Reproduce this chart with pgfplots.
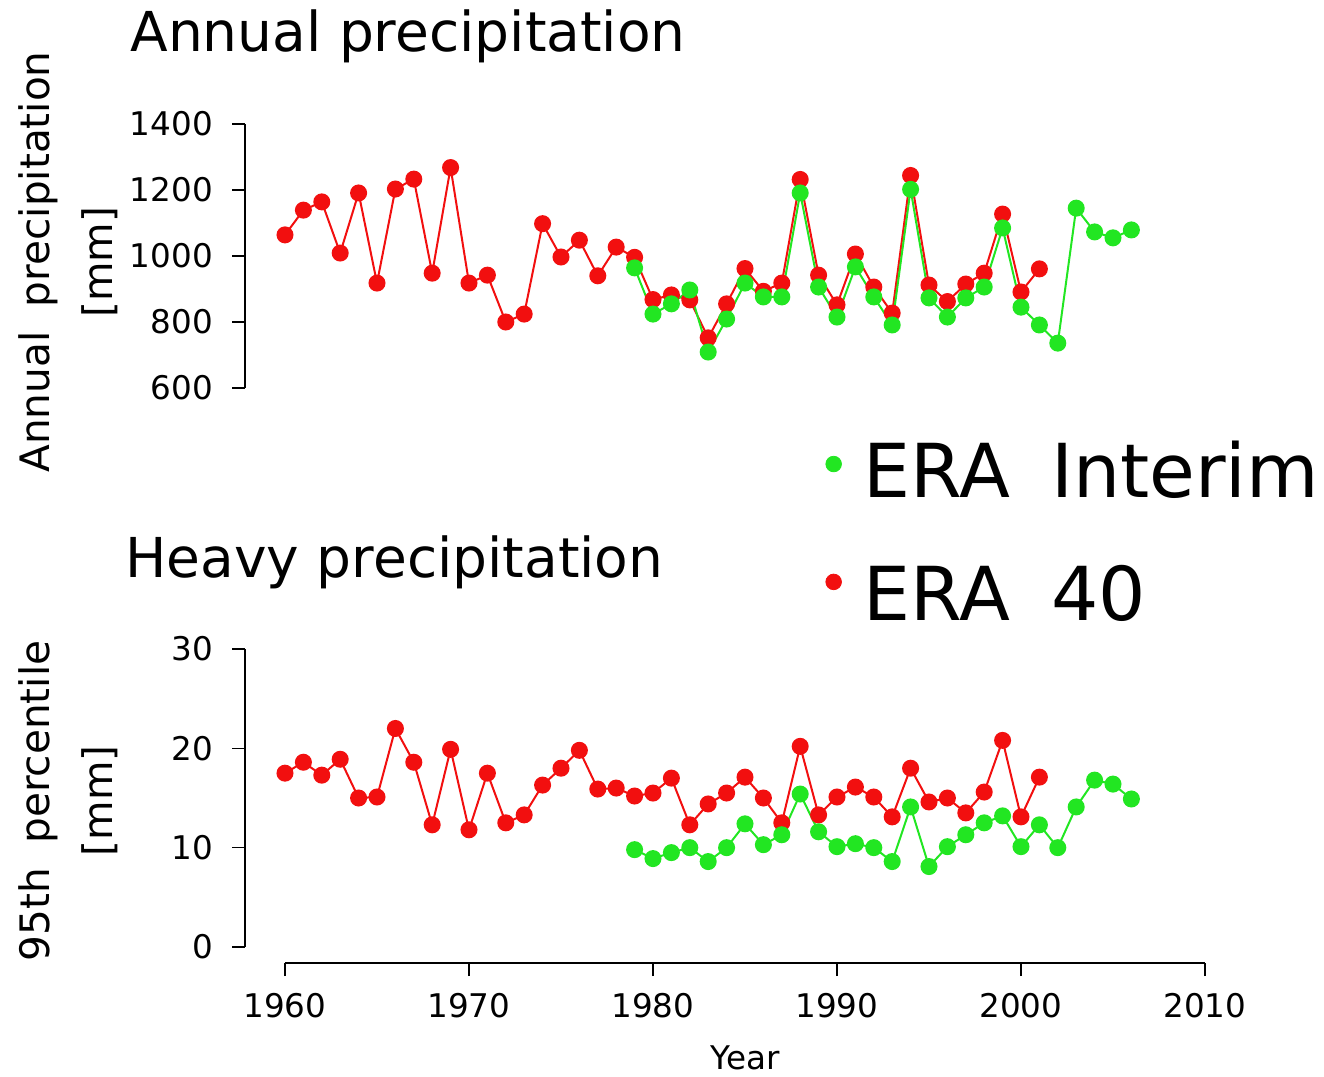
\documentclass[border=0pt]{standalone}
\usepackage{fontspec}
\setmainfont{DejaVu Sans}
\usepackage{pgfplots}
\pgfplotsset{compat=1.18}
\definecolor{eired}{HTML}{F20F0F}
\definecolor{eigreen}{HTML}{22E622}

\pgfplotsset{
  rstyle/.style={
    scale only axis, width=460pt, xmin=1960, xmax=2010, clip=false,
    axis y line*=left, axis line style={line width=0.6pt, -},
    tick align=outside, major tick length=6.5pt,
    tick style={line width=0.6pt, black},
    ticklabel style={font=\fontsize{16.3}{19}\selectfont},
    yticklabel style={xshift=-6pt},
    /pgf/number format/assume math mode=true,
    /pgf/number format/1000 sep={},
    axis y line shift=20pt,
    ylabel style={font=\fontsize{20.3}{31.5}\selectfont, align=center, anchor=center},
  },
  era/.style={line width=1pt, mark=*, mark size=3.75pt, mark options={solid}},
}

\begin{document}
\begin{tikzpicture}
\useasboundingbox (-142.5pt,-65pt) rectangle (519.5pt,473.5pt);

% top panel: annual precipitation
\begin{axis}[rstyle, at={(0pt,279.5pt)}, anchor=south west,
  height=132pt, ymin=600, ymax=1400, ytick={600,800,...,1400},
  axis x line=none, xtick=\empty,
  ylabel={Annual\hspace{0.6em}precipitation\\{[mm]}},
  ylabel style={at={(axis description cs:-0.236,0.477)}},
  legend style={draw=none, fill=none, at={(axis description cs:0.5805,-0.17)},
    anchor=north west, font=\fontsize{37.2}{44}\selectfont,
    cells={anchor=west}, row sep=28pt,
    /tikz/every odd column/.append style={column sep=9pt}},
]
\addplot[era, color=eired, forget plot] coordinates {
 (1960,1064) (1961,1139) (1962,1164) (1963,1009) (1964,1191) (1965,918)
 (1966,1203) (1967,1233) (1968,948) (1969,1268) (1970,918) (1971,942)
 (1972,800) (1973,824) (1974,1098) (1975,997) (1976,1048) (1977,940)
 (1978,1027) (1979,996) (1980,868) (1981,882) (1982,867) (1983,752)
 (1984,855) (1985,962) (1986,893) (1987,918) (1988,1232) (1989,942)
 (1990,852) (1991,1006) (1992,906) (1993,827) (1994,1244) (1995,912)
 (1996,862) (1997,915) (1998,948) (1999,1127) (2000,891) (2001,961)
};
\addplot[era, color=eigreen, forget plot] coordinates {
 (1979,964) (1980,824) (1981,855) (1982,897) (1983,709) (1984,809)
 (1985,918) (1986,876) (1987,876) (1988,1191) (1989,906) (1990,815)
 (1991,967) (1992,876) (1993,791) (1994,1202) (1995,873) (1996,815)
 (1997,873) (1998,906) (1999,1085) (2000,845) (2001,791) (2002,736)
 (2003,1145) (2004,1073) (2005,1055) (2006,1079)
};
\addlegendimage{legend image code/.code={\fill[eigreen] (0.3cm,0.35em) circle (3.9pt);}}
\addlegendentry{ERA\hspace{0.55em}Interim}
\addlegendimage{legend image code/.code={\fill[eired] (0.3cm,0.6em) circle (3.9pt);}}
\addlegendentry{ERA\hspace{0.55em}40}
\end{axis}

% bottom panel: heavy precipitation
\begin{axis}[rstyle, at={(0pt,0pt)}, anchor=south west,
  height=149pt, ymin=0, ymax=30, ytick={0,10,20,30},
  axis x line*=bottom, axis x line shift=8pt,
  xtick={1960,1970,...,2010},
  xticklabel style={yshift=-5pt},
  xlabel={Year},
  xlabel style={font=\fontsize{16.3}{19}\selectfont,
    at={(axis description cs:0.5,0)}, yshift=-55.5pt, anchor=center},
  ylabel={95th\hspace{0.6em}percentile\\{[mm]}},
  ylabel style={at={(axis description cs:-0.236,0.49)}},
]
\addplot[era, color=eired] coordinates {
 (1960,17.5) (1961,18.6) (1962,17.3) (1963,18.9) (1964,15.0) (1965,15.1)
 (1966,22.0) (1967,18.6) (1968,12.3) (1969,19.9) (1970,11.8) (1971,17.5)
 (1972,12.5) (1973,13.3) (1974,16.3) (1975,18.0) (1976,19.8) (1977,15.9)
 (1978,16.0) (1979,15.2) (1980,15.5) (1981,17.0) (1982,12.3) (1983,14.4)
 (1984,15.5) (1985,17.1) (1986,15.0) (1987,12.5) (1988,20.2) (1989,13.3)
 (1990,15.1) (1991,16.1) (1992,15.1) (1993,13.1) (1994,18.0) (1995,14.6)
 (1996,15.0) (1997,13.5) (1998,15.6) (1999,20.8) (2000,13.1) (2001,17.1)
};
\addplot[era, color=eigreen] coordinates {
 (1979,9.8) (1980,8.9) (1981,9.5) (1982,10.0) (1983,8.6) (1984,10.0)
 (1985,12.4) (1986,10.3) (1987,11.3) (1988,15.4) (1989,11.6) (1990,10.1)
 (1991,10.4) (1992,10.0) (1993,8.6) (1994,14.1) (1995,8.1) (1996,10.1)
 (1997,11.3) (1998,12.5) (1999,13.2) (2000,10.1) (2001,12.3) (2002,10.0)
 (2003,14.1) (2004,16.8) (2005,16.4) (2006,14.9)
};
\end{axis}

\node[anchor=base west, inner sep=0pt, font=\fontsize{27.5}{32}\selectfont]
  at (-77.5pt,447.5pt) {Annual precipitation};
\node[anchor=base west, inner sep=0pt, font=\fontsize{27.5}{32}\selectfont]
  at (-80pt,184.5pt) {Heavy precipitation};
\end{tikzpicture}
\end{document}
